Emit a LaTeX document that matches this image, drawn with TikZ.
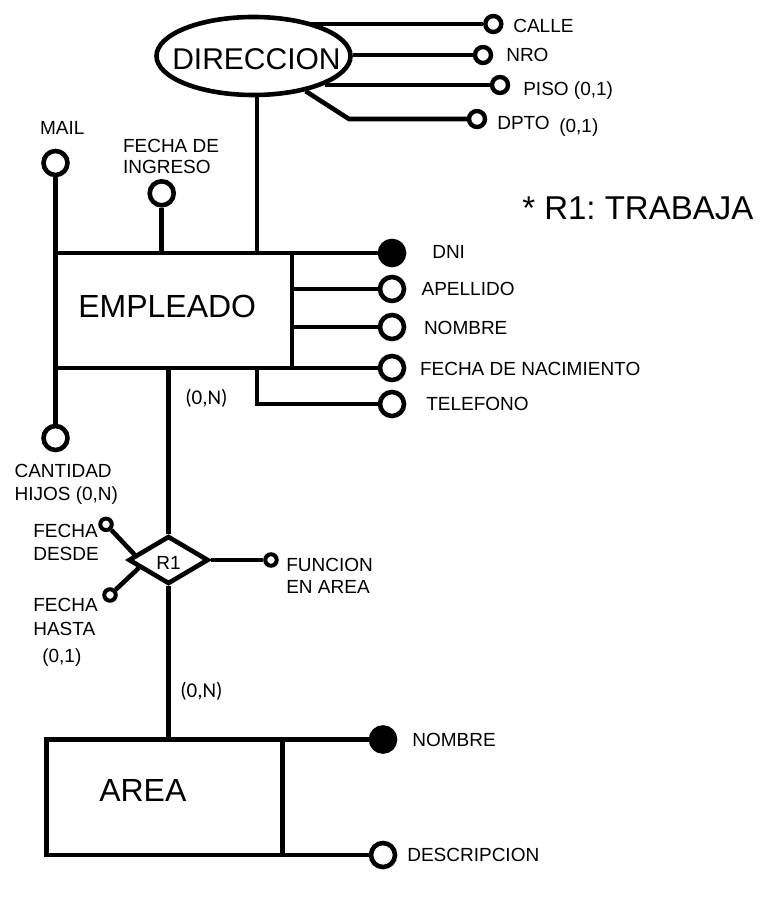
\documentclass[tikz,border=0pt]{standalone}
\usepackage{fontspec}
\setmainfont{Liberation Sans}
\newfontfamily\calib{Carlito}
\usetikzlibrary{shapes.geometric,calc}
\frenchspacing
\begin{document}
\begin{tikzpicture}[x=1pt,y=-1pt,line width=4.6pt,
  attr/.style={circle,draw,minimum size=24pt,inner sep=0pt,line width=4.6pt},
  keyattr/.style={attr,fill=black},
  sattr/.style={circle,draw,minimum size=16pt,inner sep=0pt,line width=4.4pt},
  tattr/.style={circle,draw,minimum size=11.5pt,inner sep=0pt,line width=4pt},
  lbl/.style={anchor=base west,inner sep=0pt,font=\fontsize{19}{22}\selectfont},
  card/.style={anchor=base west,inner sep=0pt,font=\calib\fontsize{21}{24}\selectfont},
  big/.style={anchor=base west,inner sep=0pt,font=\fontsize{32}{36}\selectfont},
  entity/.style={draw,rectangle,inner sep=0pt,outer sep=0pt},
]
\useasboundingbox (0,0) rectangle (782,904);

% ---------- DIRECCION ----------
\node[ellipse,draw,minimum width=194pt,minimum height=78pt,inner sep=0pt] (dir) at (253.5,56) {};
\node[anchor=base west,inner sep=0pt,font=\fontsize{30}{34}\selectfont] (dirt) at (170,70) {DIRECCION};

\node[sattr] (calle) at (493.3,24) {};
\node[sattr] (nro) at (483,55) {};
\node[sattr] (piso) at (500,85) {};
\node[sattr] (dpto) at (477,119) {};
\coordinate (dk) at (349,119);

\draw (calle) -- (calle -| dir.33);
\draw (nro) -- (nro -| dir.east);
\draw (piso) -- (piso -| dir.-22);
\draw (dir.-34) -- (dk) -- (dpto);

\node[lbl] (lcalle) at (511,33) {CALLE};
\node[lbl] (lnro) at (504,61.7) {NRO};
\node[lbl] (lpiso) at (521,95.7) {PISO (0,1)};
\node[lbl] (ldpto) at (495,130) {DPTO};
\node[lbl] (ldpto2) at (557,133) {(0,1)};

% ---------- EMPLEADO ----------
\node[entity,minimum width=236.5pt,minimum height=115pt] (emp) at (173.75,310.5) {};
\node[big] (empt) at (76,317) {EMPLEADO};
\coordinate (jd) at (257,253);
\draw (jd) -- (jd |- dir.south);

\node[keyattr] (dni) at (392,253) {};
\node[attr] (ape) at (392,289) {};
\node[attr] (nom) at (392,327) {};
\node[attr] (fna) at (392,368) {};
\node[attr] (tel) at (392,404) {};
\draw (emp.north east) -- (dni);
\draw (ape -| emp.east) -- (ape);
\draw (nom -| emp.east) -- (nom);
\draw (emp.south east) -- (fna);
\draw (jd |- emp.south) |- (tel);

\node[lbl] (ldni) at (430,258) {DNI};
\node[lbl] (lape) at (419.3,295.7) {APELLIDO};
\node[lbl] (lnom) at (421.7,334) {NOMBRE};
\node[lbl] (lfna) at (417.7,375) {FECHA DE NACIMIENTO};
\node[lbl] (ltel) at (424,410) {TELEFONO};

\node[attr] (mail) at (55.5,163) {};
\node[attr] (cant) at (55.5,438) {};
\node[attr] (fdi) at (161.7,193.3) {};
\draw (mail) -- (cant);
\draw (fdi) -- (fdi |- emp.north);

\node[lbl] (lmail) at (37.7,135) {MAIL};
\node[lbl] (lfdi1) at (120.7,152.3) {FECHA DE};
\node[lbl] (lfdi2) at (120.7,174) {INGRESO};
\node[lbl] (lcant1) at (12.3,477) {CANTIDAD};
\node[lbl] (lcant2) at (12.3,500) {HIJOS (0,N)};

\node[anchor=base west,inner sep=0pt,font=\fontsize{33}{36}\selectfont] (nota) at (520,219) {* R1: TRABAJA};

% ---------- R1 ----------
\node[diamond,draw,minimum width=80pt,minimum height=48pt,inner sep=0pt] (r1) at (168.5,560) {};
\node[lbl] (r1t) at (154,569) {R1};
\draw (r1.north) -- (r1.north |- emp.south);

\node[tattr] (fdes) at (106,524.3) {};
\node[tattr] (fhas) at (110,595) {};
\node[tattr] (fun) at (271,560) {};
\draw (fdes) -- ($(r1.west)!0.2!(r1.north)$);
\draw (fhas) -- ($(r1.west)!0.3!(r1.south)$);
\draw (r1.east) -- (fun);

\node[lbl] (lfd1) at (31,537) {FECHA};
\node[lbl] (lfd2) at (31,560) {DESDE};
\node[lbl] (lfh1) at (31,611.7) {FECHA};
\node[lbl] (lfh2) at (31,635) {HASTA};
\node[lbl] (lfh3) at (40,662) {(0,1)};
\node[lbl] (lfun1) at (284,571) {FUNCION};
\node[lbl] (lfun2) at (284,593.3) {EN AREA};

\node[card] (c1) at (183,404) {(0,N)};
\node[card] (c2) at (178,697) {(0,N)};

% ---------- AREA ----------
\node[entity,minimum width=236pt,minimum height=115.5pt] (area) at (164.5,797.25) {};
\node[big] (areat) at (97,801) {AREA};
\draw (r1.south) -- (r1.south |- area.north);

\node[keyattr] (anom) at (383,739.5) {};
\node[attr] (adesc) at (383,855) {};
\draw (area.north east) -- (anom);
\draw (area.south east) -- (adesc);

\node[lbl] (lanom) at (410,746) {NOMBRE};
\node[lbl] (ladesc) at (405,861.7) {DESCRIPCION};
\end{tikzpicture}
\end{document}
